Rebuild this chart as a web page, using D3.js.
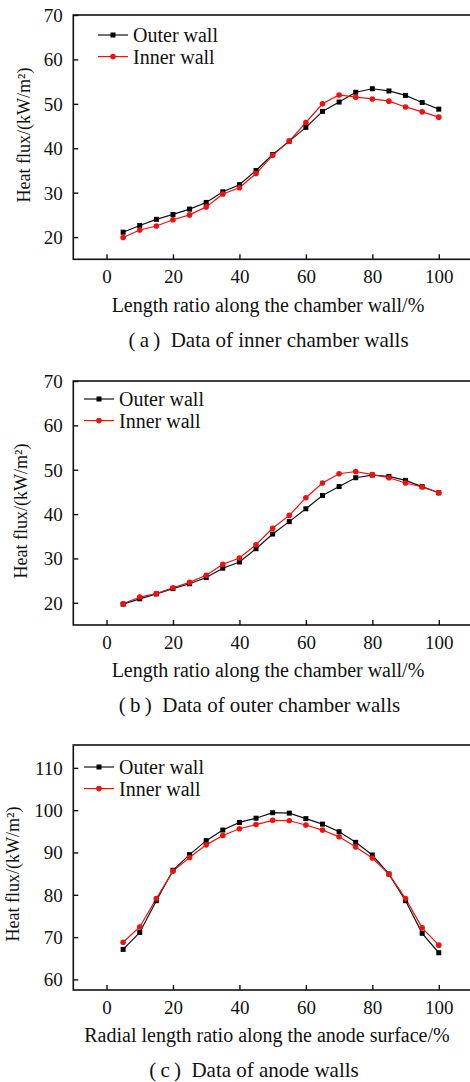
<!DOCTYPE html>
<html>
<head>
<meta charset="utf-8">
<script src="https://cdn.jsdelivr.net/npm/d3@7"></script>
<style>
  html, body { margin: 0; padding: 0; background: #fff; }
  svg { display: block; }
  text { font-family: "Liberation Serif", "Times New Roman", serif; fill: #111; }
</style>
</head>
<body>
<svg id="chart" width="470" height="1082"></svg>
<script>
// Heat flux along the walls, x = length ratio (%)
var xValues = [5, 10, 15, 20, 25, 30, 35, 40, 45, 50, 55, 60, 65, 70, 75, 80, 85, 90, 95, 100];
var xTicks = [0, 20, 40, 60, 80, 100];

// (a) inner chamber walls
var outerA = [21.1, 22.6, 24.0, 25.1, 26.3, 27.8, 30.2, 31.8, 35.0, 38.6, 41.6, 44.7, 48.3, 50.4, 52.6, 53.4, 52.9, 51.9, 50.3, 48.8];
var innerA = [19.9, 21.6, 22.5, 23.9, 25.0, 26.8, 29.7, 31.1, 34.3, 38.4, 41.6, 45.8, 50.0, 52.0, 51.5, 51.1, 50.6, 49.3, 48.2, 47.0];

// (b) outer chamber walls
var outerB = [19.7, 20.9, 22.0, 23.2, 24.3, 25.7, 27.8, 29.2, 32.2, 35.5, 38.3, 41.2, 44.2, 46.2, 48.2, 48.8, 48.5, 47.6, 46.2, 44.8];
var innerB = [19.8, 21.3, 22.1, 23.4, 24.6, 26.2, 28.7, 30.1, 33.1, 36.8, 39.7, 43.7, 47.0, 49.1, 49.6, 48.9, 48.2, 47.0, 46.1, 44.8];

// (c) anode walls
var outerC = [67.1, 71.1, 78.6, 85.8, 89.5, 92.8, 95.3, 97.1, 98.1, 99.4, 99.3, 98.0, 96.7, 94.9, 92.4, 89.4, 84.9, 78.6, 70.9, 66.3];
var innerC = [68.8, 72.4, 79.1, 85.6, 88.8, 91.8, 94.0, 95.6, 96.6, 97.6, 97.5, 96.5, 95.3, 93.7, 91.3, 88.7, 84.9, 79.1, 72.2, 68.1];

var seriesNames = ['Outer wall', 'Inner wall'];
var yLabel = 'Heat flux/(kW/m\u00B2)';

var panels = [
  {
    outer: outerA, inner: innerA,
    yDomain: [15, 70], yTicks: [20, 30, 40, 50, 60, 70],
    top: 15, bottom: 259.3,
    xTitle: 'Length ratio along the chamber wall/%', xTitleX: 268, xTitleY: 305,
    caption: '(\u2009a\u2009)\u2002Data of inner chamber walls', capX: 268.5, capY: 340,
    yTitleX: 24, yTitleY: 135,
    legX: 98, legY: 35
  },
  {
    outer: outerB, inner: innerB,
    yDomain: [15, 70], yTicks: [20, 30, 40, 50, 60, 70],
    top: 381, bottom: 625,
    xTitle: 'Length ratio along the chamber wall/%', xTitleX: 268, xTitleY: 670,
    caption: '(\u2009b\u2009)\u2002Data of outer chamber walls', capX: 259.5, capY: 705,
    yTitleX: 21, yTitleY: 511,
    legX: 84, legY: 399
  },
  {
    outer: outerC, inner: innerC,
    yDomain: [57.5, 115.4], yTicks: [60, 70, 80, 90, 100, 110],
    top: 745, bottom: 990,
    xTitle: 'Radial length ratio along the anode surface/%', xTitleX: 267, xTitleY: 1035,
    caption: '(\u2009c\u2009)\u2002Data of anode walls', capX: 254, capY: 1070,
    yTitleX: 13, yTitleY: 874,
    legX: 84, legY: 767
  }
];

var svg = d3.select('#chart');
var LEFT = 73.3, RIGHT = 472;
var FONT = 19;

var x = d3.scaleLinear().domain([-10, 110]).range([LEFT, RIGHT]);

panels.forEach(function (p) {
  var g = svg.append('g');
  var y = d3.scaleLinear().domain(p.yDomain).range([p.bottom, p.top]);

  // frame
  g.append('rect')
    .attr('x', LEFT).attr('y', p.top)
    .attr('width', RIGHT - LEFT).attr('height', p.bottom - p.top)
    .attr('fill', 'none').attr('stroke', '#111').attr('stroke-width', 1.6);

  // axes with inward ticks
  var xAxis = g.append('g')
    .attr('transform', 'translate(0,' + p.bottom + ')')
    .call(d3.axisBottom(x).tickValues(xTicks).tickSizeInner(-5).tickSizeOuter(0).tickPadding(10));
  var yAxis = g.append('g')
    .attr('transform', 'translate(' + LEFT + ',0)')
    .call(d3.axisLeft(y).tickValues(p.yTicks).tickSizeInner(-5).tickSizeOuter(0).tickPadding(10));

  [xAxis, yAxis].forEach(function (a) {
    a.select('.domain').remove();
    a.selectAll('line').attr('stroke', '#111').attr('stroke-width', 1.4);
    a.selectAll('text')
      .attr('font-family', '"Liberation Serif", serif')
      .attr('font-size', FONT).attr('fill', '#111');
  });
  xAxis.selectAll('text').attr('dy', null).attr('y', 17).attr('dominant-baseline', 'central');
  yAxis.selectAll('text').attr('x', -10.5).attr('dy', null).attr('dominant-baseline', 'central');

  // series
  var line = d3.line()
    .x(function (d, i) { return x(xValues[i]); })
    .y(function (d) { return y(d); });

  g.append('path').datum(p.outer)
    .attr('d', line).attr('fill', 'none').attr('stroke', '#111').attr('stroke-width', 1.2);
  g.append('path').datum(p.inner)
    .attr('d', line).attr('fill', 'none').attr('stroke', '#f01010').attr('stroke-width', 1.2);

  g.selectAll('rect.sq').data(p.outer).join('rect')
    .attr('class', 'sq')
    .attr('x', function (d, i) { return x(xValues[i]) - 2.5; })
    .attr('y', function (d) { return y(d) - 2.5; })
    .attr('width', 5).attr('height', 5).attr('fill', '#000');
  g.selectAll('circle.dot').data(p.inner).join('circle')
    .attr('class', 'dot')
    .attr('cx', function (d, i) { return x(xValues[i]); })
    .attr('cy', function (d) { return y(d); })
    .attr('r', 2.8).attr('fill', '#f01010');

  // legend
  var colors = ['#111', '#f01010'];
  seriesNames.forEach(function (name, i) {
    var ly = p.legY + i * 21.6;
    var lg = g.append('g');
    lg.append('line')
      .attr('x1', p.legX).attr('x2', p.legX + 30)
      .attr('y1', ly).attr('y2', ly)
      .attr('stroke', colors[i]).attr('stroke-width', 1.2);
    if (i === 0) {
      lg.append('rect').attr('x', p.legX + 15 - 2.5).attr('y', ly - 2.5)
        .attr('width', 5).attr('height', 5).attr('fill', '#000');
    } else {
      lg.append('circle').attr('cx', p.legX + 15).attr('cy', ly).attr('r', 2.8).attr('fill', '#f01010');
    }
    lg.append('text')
      .attr('x', p.legX + 35).attr('y', ly)
      .attr('dominant-baseline', 'central')
      .attr('font-size', 20)
      .text(name);
  });

  // titles
  g.append('text')
    .attr('x', p.xTitleX).attr('y', p.xTitleY)
    .attr('text-anchor', 'middle').attr('dominant-baseline', 'central')
    .attr('font-size', 20)
    .text(p.xTitle);

  g.append('text')
    .attr('transform', 'translate(' + p.yTitleX + ',' + p.yTitleY + ') rotate(-90)')
    .attr('text-anchor', 'middle').attr('dominant-baseline', 'central')
    .attr('font-size', 18)
    .text(yLabel);

  g.append('text')
    .attr('x', p.capX).attr('y', p.capY)
    .attr('text-anchor', 'middle').attr('dominant-baseline', 'central')
    .attr('font-size', 21)
    .text(p.caption);
});
</script>
</body>
</html>
